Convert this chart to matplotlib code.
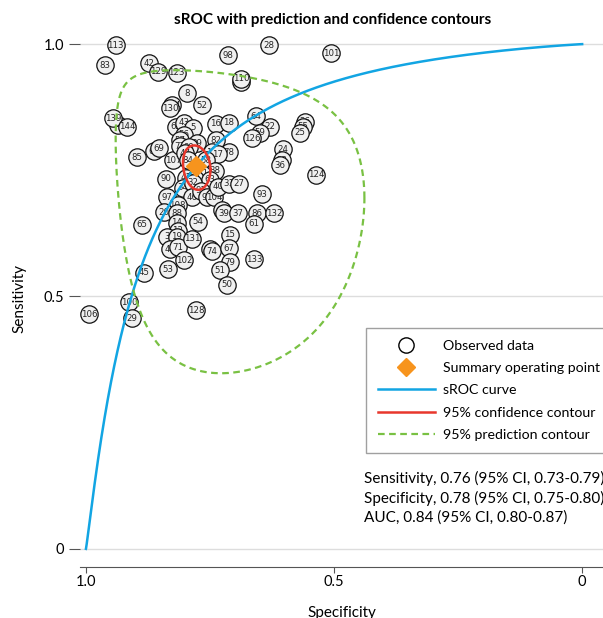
import numpy as np
import matplotlib
matplotlib.use("Agg")
import matplotlib.pyplot as plt
from matplotlib.lines import Line2D
from matplotlib.legend_handler import HandlerLine2D

plt.rcParams['font.family'] = ['Lato', 'DejaVu Sans']

# study labels, specificity, sensitivity (drawing order = stacking order)
study_ids = [113, 83, 42, 129, 123, 98, 28, 101, 81, 110, 8, 52, 134, 130,
             135, 139, 144, 62, 43, 5, 16, 18, 56, 57, 64, 22, 59, 126, 26, 55, 25,
             82, 89, 24, 33, 36, 124, 85, 66, 69, 107, 73, 99, 47, 84, 10, 78, 17,
             58, 38, 11, 90, 41, 92, 63, 34, 32, 46, 91, 94, 104, 40, 31, 27, 93,
             97, 108, 20, 88, 65, 14, 12, 3, 19, 48, 71, 54, 131, 102, 53, 45,
             60, 39, 37, 86, 132, 61, 15, 76, 74, 67, 79, 133, 51, 50, 100, 29,
             106, 128]
specificity = [0.940, 0.962, 0.873, 0.855, 0.817, 0.714, 0.631, 0.506, 0.688, 0.688,
               0.796, 0.766, 0.827, 0.831, 0.935, 0.946, 0.917, 0.819, 0.802, 0.784,
               0.738, 0.712, 0.802, 0.810, 0.657, 0.629, 0.649, 0.665, 0.558, 0.562,
               0.569, 0.738, 0.776, 0.603, 0.605, 0.609, 0.536, 0.897, 0.863, 0.853,
               0.825, 0.810, 0.792, 0.800, 0.794, 0.746, 0.712, 0.734, 0.758, 0.740,
               0.766, 0.839, 0.798, 0.780, 0.750, 0.804, 0.784, 0.786, 0.768, 0.756,
               0.742, 0.734, 0.712, 0.692, 0.645, 0.837, 0.815, 0.843, 0.817, 0.887,
               0.817, 0.815, 0.837, 0.817, 0.831, 0.815, 0.774, 0.786, 0.802, 0.835,
               0.883, 0.726, 0.722, 0.694, 0.655, 0.621, 0.661, 0.710, 0.750, 0.746,
               0.712, 0.710, 0.661, 0.730, 0.716, 0.913, 0.907, 0.994, 0.778]
sensitivity = [0.998, 0.958, 0.962, 0.945, 0.943, 0.978, 0.998, 0.982, 0.925, 0.931,
               0.903, 0.879, 0.879, 0.873, 0.840, 0.853, 0.836, 0.836, 0.844, 0.834,
               0.842, 0.844, 0.820, 0.810, 0.857, 0.836, 0.824, 0.814, 0.846, 0.836,
               0.824, 0.810, 0.804, 0.792, 0.770, 0.760, 0.741, 0.776, 0.788, 0.794,
               0.770, 0.798, 0.796, 0.784, 0.770, 0.786, 0.786, 0.782, 0.770, 0.749,
               0.743, 0.733, 0.735, 0.733, 0.731, 0.715, 0.725, 0.697, 0.709, 0.697,
               0.697, 0.717, 0.723, 0.723, 0.703, 0.697, 0.681, 0.667, 0.665, 0.642,
               0.646, 0.630, 0.618, 0.618, 0.594, 0.598, 0.648, 0.614, 0.572, 0.554,
               0.547, 0.671, 0.665, 0.665, 0.665, 0.665, 0.644, 0.622, 0.594, 0.590,
               0.596, 0.568, 0.574, 0.552, 0.523, 0.489, 0.457, 0.465, 0.473]

# summary estimates
summary_sens = 0.758
summary_spec = 0.778
sroc_slope = 1.10

# contour half-widths in logit space (fpr, sens) and correlation
conf_half = (0.16, 0.24)
conf_rho = -0.15
pred_half = (1.50, 1.77)
pred_rho = -0.18

stats_lines = ["Sensitivity, 0.76 (95% CI, 0.73-0.79)",
               "Specificity, 0.78 (95% CI, 0.75-0.80)",
               "AUC, 0.84 (95% CI, 0.80-0.87)"]

BLUE = '#12a5e3'
RED = '#e8372c'
GREEN = '#79c143'
ORANGE = '#f7941d'


def logit(p):
    return np.log(p / (1 - p))


def expit(v):
    return 1 / (1 + np.exp(-v))


def contour(half, rho):
    t = np.linspace(0, 2 * np.pi, 400)
    u0 = logit(1 - summary_spec)
    v0 = logit(summary_sens)
    u = u0 + half[0] * np.cos(t)
    v = v0 + half[1] * (rho * np.cos(t) + np.sqrt(1 - rho ** 2) * np.sin(t))
    return 1 - expit(u), expit(v)


class RightMarker(HandlerLine2D):
    # put the legend marker near the right end of the handle
    def get_xdata(self, legend, xdescent, ydescent, width, height, fontsize):
        xd, _ = super().get_xdata(legend, xdescent, ydescent, width, height, fontsize)
        return xd, np.array([-xdescent + width * 0.86])


fig = plt.figure(figsize=(6.03, 6.18), dpi=100)
ax = fig.add_axes([80 / 603, 1 - 567 / 618, 1 - 80 / 603, (567 - 30) / 618])
ax.set_xlim(1.012, -0.042)
ax.set_ylim(-0.036, 1.028)

for i, (sid, sp, se) in enumerate(zip(study_ids, specificity, sensitivity)):
    z = 2 + i * 0.01
    ax.plot(sp, se, 'o', ms=12.5, mfc='#f0f0f0', mec='#111111', mew=0.9, zorder=z)
    ax.text(sp, se, str(sid), fontsize=6.2, ha='center', va='center',
            family='DejaVu Sans', color='#222222', zorder=z + 0.005)

# sROC curve
fpr = np.linspace(1e-7, 1 - 1e-7, 2000)
a = logit(summary_sens) - sroc_slope * logit(1 - summary_spec)
ax.plot(np.r_[1.0, 1 - fpr, 0.0], np.r_[0.0, expit(a + sroc_slope * logit(fpr)), 1.0],
        color=BLUE, lw=1.8, zorder=5)

px, py = contour(pred_half, pred_rho)
ax.plot(px, py, color=GREEN, lw=1.6, ls=(0, (3, 2)), zorder=5.1)
cx, cy = contour(conf_half, conf_rho)
ax.plot(cx, cy, color=RED, lw=1.8, zorder=5.2)
ax.plot(summary_spec, summary_sens, 'D', ms=10, color=ORANGE, mec=ORANGE, zorder=6)

ax.set_xticks([1.0, 0.5, 0])
ax.set_xticklabels(['1.0', '0.5', '0'])
ax.set_yticks([0, 0.5, 1.0])
ax.set_yticklabels(['0', '0.5', '1.0'])
ax.tick_params(axis='y', labelsize=10.5, length=8, color='#555555', width=0.8)
ax.tick_params(axis='x', labelsize=10.5, length=4, pad=2, color='#555555', width=0.8)
ax.grid(axis='y', color='#dddddd', lw=1)
for s in ['top', 'right', 'left']:
    ax.spines[s].set_visible(False)
ax.spines['bottom'].set_color('#555555')
ax.set_xlabel('Specificity', fontsize=11, labelpad=12)
ax.set_ylabel('Sensitivity', fontsize=11, labelpad=12)

fig.text(333 / 603, 1 - 20 / 618, 'sROC with prediction and confidence contours',
         ha='center', va='center', fontsize=11, fontweight='bold')

circle_h = Line2D([], [], ls='none', marker='o', ms=11, mfc='white', mec='black', mew=1)
diamond_h = Line2D([], [], ls='none', marker='D', ms=9.5, color=ORANGE)
handles = [
    circle_h,
    diamond_h,
    Line2D([], [], color=BLUE, lw=1.8),
    Line2D([], [], color=RED, lw=1.8),
    Line2D([], [], color=GREEN, lw=1.6, ls=(0, (3, 2))),
]
labels = ['Observed data', 'Summary operating point', 'sROC curve',
          '95% confidence contour', '95% prediction contour']
leg = ax.legend(handles, labels, loc='upper left', bbox_to_anchor=(366 / 603, 1 - 328 / 618),
                bbox_transform=fig.transFigure, fontsize=10.2, frameon=True, fancybox=False,
                edgecolor='#888888', handlelength=4.0, handletextpad=0.6, borderpad=0.85,
                labelspacing=0.72, borderaxespad=0,
                handler_map={circle_h: RightMarker(), diamond_h: RightMarker()})
leg.get_frame().set_linewidth(1.0)
leg.set_zorder(10)

for k, line in enumerate(stats_lines):
    fig.text(364 / 603, 1 - (478 + 20 * k) / 618, line, ha='left', va='center', fontsize=11)

fig.savefig('out.png', dpi=100)
